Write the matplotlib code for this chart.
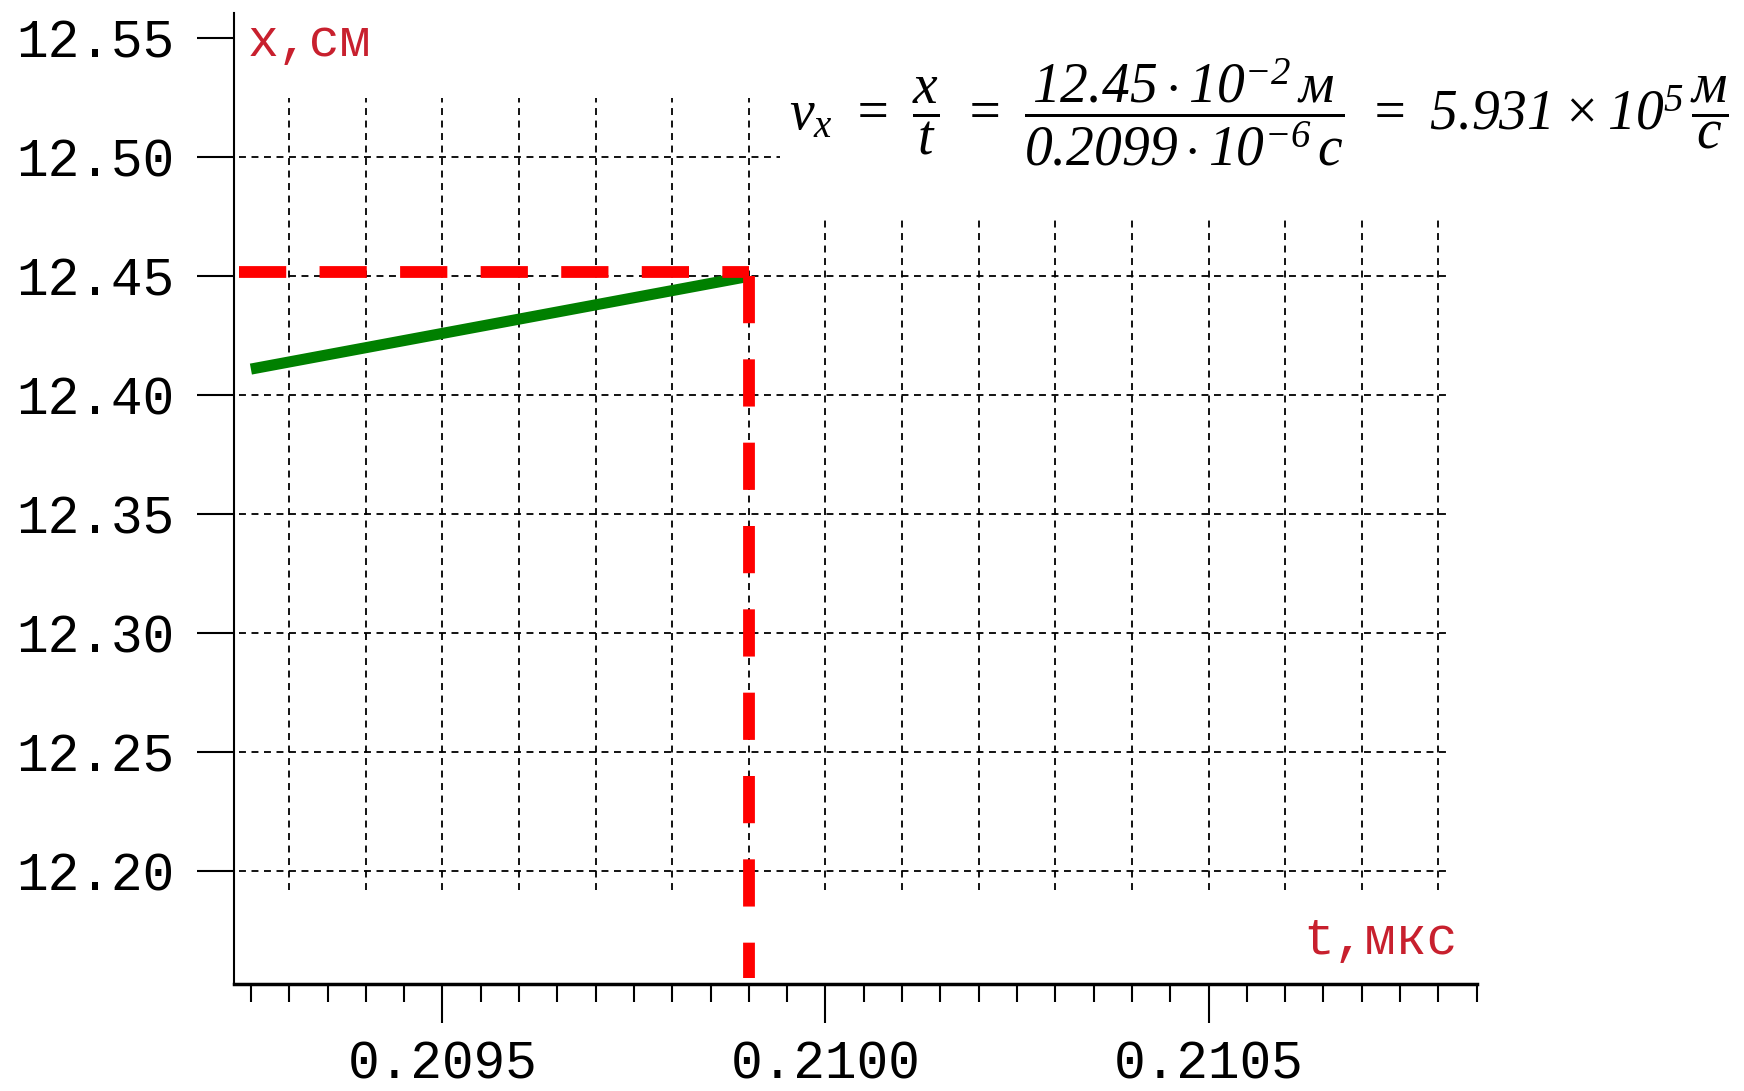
import numpy as np
import matplotlib
matplotlib.use('Agg')
import matplotlib.pyplot as plt
from matplotlib.patches import Rectangle

plt.rcParams['lines.scale_dashes'] = False
plt.rcParams['mathtext.fontset'] = 'custom'
plt.rcParams['mathtext.it'] = 'Liberation Serif:italic'
plt.rcParams['mathtext.rm'] = 'Liberation Serif:italic'

# data
t_line = [0.20925, 0.2099]      # t, мкс
x_line = [12.411, 12.45]        # x, см
t_mark = 0.2099
x_mark = 12.45
t_left = 0.209235
x_bottom = 12.155

y_ticks = [12.20, 12.25, 12.30, 12.35, 12.40, 12.45, 12.50, 12.55]
y_labels = ['12.20', '12.25', '12.30', '12.35', '12.40', '12.45', '12.50', '12.55']
x_ticks = [0.2095, 0.2100, 0.2105]
x_labels = ['0.2095', '0.2100', '0.2105']
grid_t = [0.2093, 0.2094, 0.2095, 0.2096, 0.2097, 0.2098, 0.2099, 0.2100,
          0.2101, 0.2102, 0.2103, 0.2104, 0.2105, 0.2106, 0.2107, 0.2108]
grid_x = [12.20, 12.25, 12.30, 12.35, 12.40, 12.45, 12.50]

mono = 'Liberation Mono'
lab_red = '#c8202e'

fig = plt.figure(figsize=(17.44, 10.91), dpi=100)
ax = fig.add_axes([0.1342, 0.098, 0.8467 - 0.1342, 0.9877 - 0.098])
ax.set_xlim(0.209228, 0.210849)
ax.set_ylim(12.1525, 12.5605)

# dashed grid
ax.vlines(grid_t, 12.192, 12.525, colors='black', lw=1.3, linestyles=[(0, (5, 4))], zorder=1)
ax.hlines(grid_x, t_left, 0.21081, colors='black', lw=1.3, linestyles=[(0, (5, 4))], zorder=1)

# green line
ax.plot(t_line, x_line, color='#008000', lw=8, solid_capstyle='butt', zorder=3)

# red dashed guides
ax.plot([t_left, t_mark], [x_mark + 0.002, x_mark + 0.002], color='#ff0000', lw=8.5,
        dashes=(34, 24), solid_capstyle='butt', zorder=4)
ax.plot([t_mark, t_mark], [x_mark, x_bottom], color='#ff0000', lw=8.5,
        dashes=(34, 26), solid_capstyle='butt', zorder=4)

# axes styling
for s in ['top', 'right']:
    ax.spines[s].set_visible(False)
ax.spines['left'].set_linewidth(1.5)
ax.spines['bottom'].set_linewidth(2.5)

ax.set_yticks(y_ticks)
ax.set_yticklabels(y_labels, family=mono, fontsize=38)
ax.set_xticks(x_ticks)
ax.set_xticklabels(x_labels, family=mono, fontsize=38)
ax.set_xticks(np.arange(0.20925, 0.210851, 0.00005), minor=True)
ax.tick_params(axis='y', direction='out', length=27, width=1.5, pad=16)
ax.tick_params(axis='x', which='major', direction='out', length=28, width=1.5, pad=12)
ax.tick_params(axis='x', which='minor', direction='out', length=13, width=1.5)

# axis names
ax.text(0.0106, 0.9705, 'x,см', transform=ax.transAxes, family=mono, fontsize=37,
        color=lab_red, ha='left', va='center')
ax.text(0.985, 0.045, 't,мкс', transform=ax.transAxes, family=mono, fontsize=37,
        color=lab_red, ha='right', va='center')

# white area behind the formula
fig.patches.append(Rectangle((0.447, 0.798), 0.553, 0.202, transform=fig.transFigure,
                             facecolor='white', edgecolor='none', zorder=5))
fig.text(0.722, 0.897,
         r'$v_x\ =\ \dfrac{x}{t}\ =\ \dfrac{12.45\cdot10^{-2}\,м}{0.2099\cdot10^{-6}\,с}\ =\ 5.931\times10^{5}\,\dfrac{м}{с}$',
         fontsize=40, ha='center', va='center', zorder=6)

fig.savefig('out.png', dpi=100)
plt.close(fig)
